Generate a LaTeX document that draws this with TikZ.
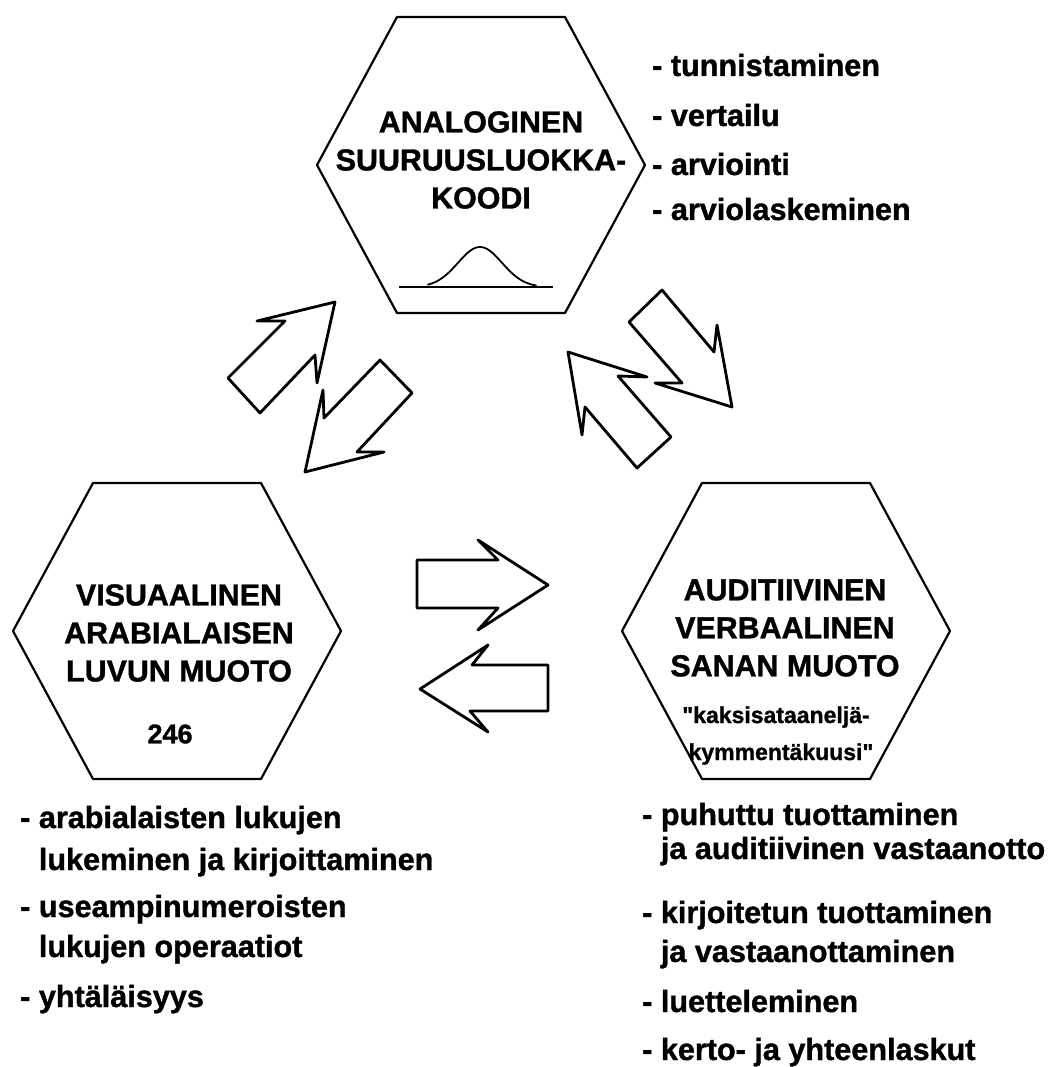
\documentclass[tikz,border=0pt]{standalone}
\usepackage{fontspec}
\setmainfont{Liberation Sans}[BoldFont={Liberation Sans Bold}, BoldFeatures={FakeBold=1.2}]
\newfontfamily\plainquotefont{Liberation Sans Bold}[FakeBold=1.2]
\begin{document}
\begin{tikzpicture}[x=1pt,y=-1pt,
  hexline/.style={line width=2.2pt, line join=round},
  blockarrow/.style={line width=2.8pt, line join=round},
  hextitle/.style={font=\fontsize{30.4}{38}\selectfont\bfseries, align=center, inner sep=0pt},
  listline/.style={font=\fontsize{30.6}{36}\selectfont\bfseries, anchor=base west, inner sep=0pt},
  quoteline/.style={font=\fontsize{23}{28}\selectfont\bfseries, anchor=base, inner sep=0pt},
  numtext/.style={font=\fontsize{27}{32}\selectfont\bfseries, inner sep=0pt}]

\useasboundingbox (0,0) rectangle (1064,1067);

% hexagon centres
\coordinate (hexA) at (481,165);
\coordinate (hexV) at (177,631);
\coordinate (hexU) at (786,631);

\foreach \c in {hexA,hexV,hexU}
  \draw[hexline, shift={(\c)}] (-84,-148) -- (84,-148) -- (164,0) -- (84,148) -- (-84,148) -- (-164,0) -- cycle;

% titles
\node[hextitle] (anal) at (481,160) {ANALOGINEN\\SUURUUSLUOKKA-\\KOODI};
\node[hextitle] (visu) at (179,633) {VISUAALINEN\\ARABIALAISEN\\LUVUN MUOTO};
\node[hextitle] (audi) at (785,628) {AUDITIIVINEN\\VERBAALINEN\\SANAN MUOTO};

% bell curve
\coordinate (bellL) at (399,287);
\coordinate (bellR) at (553,287);
\draw[line width=1.8pt] (bellL) -- (bellR);
\draw[line width=1.8pt, line cap=round] plot[domain=428:536, samples=80, smooth] (\x, {287 - 40*exp(-((\x-480)/31)^2)});

% 246
\node[numtext] (num) at (170,734) {246};

% quote
\node[quoteline] (q1) at (776,723) {{\plainquotefont "}kaksisataaneljä-};
\node[quoteline] (q2) at (781,760) {kymmentäkuusi{\plainquotefont "}};

% block arrows, left pair
\draw[blockarrow] (228,378) -- (285,321) -- (257,321) -- (335,302) -- (317,383) -- (315,355) -- (260,413) -- cycle;
\draw[blockarrow] (380,360) -- (412,393) -- (357,452) -- (384,452) -- (305,472) -- (323,390) -- (324,418) -- cycle;

% block arrows, right pair
\draw[blockarrow] (662,290) -- (629,322) -- (682,383) -- (655,383) -- (732,407) -- (717,325) -- (714,352) -- cycle;
\draw[blockarrow] (568,352) -- (647,377) -- (618,376) -- (671,437) -- (637,468) -- (585,407) -- (582,435) -- cycle;

% block arrows, middle pair
\draw[blockarrow] (417,560) -- (498,560) -- (478,540) -- (548,585) -- (478,630) -- (498,608) -- (417,608) -- cycle;
\draw[blockarrow] (420,689) -- (488,645) -- (472,665) -- (548,665) -- (548,711) -- (470,711) -- (488,732) -- cycle;

% lists: top right
\node[listline] (a1) at (652,76)  {- tunnistaminen};
\node[listline] (a2) at (652,126) {- vertailu};
\node[listline] (a3) at (652,175) {- arviointi};
\node[listline] (a4) at (652,220) {- arviolaskeminen};

% lists: bottom left
\node[listline] (v1) at (20,828)  {- arabialaisten lukujen};
\node[listline] (v2) at (20,870)  {\hphantom{- }lukeminen ja kirjoittaminen};
\node[listline] (v3) at (20,917)  {- useampinumeroisten};
\node[listline] (v4) at (20,957)  {\hphantom{- }lukujen operaatiot};
\node[listline] (v5) at (20,1007) {- yhtäläisyys};

% lists: bottom right
\node[listline] (u1) at (642,825)  {- puhuttu tuottaminen};
\node[listline] (u2) at (642,859)  {\hphantom{- }ja auditiivinen vastaanotto};
\node[listline] (u3) at (642,923)  {- kirjoitetun tuottaminen};
\node[listline] (u4) at (642,962)  {\hphantom{- }ja vastaanottaminen};
\node[listline] (u5) at (642,1012) {- luetteleminen};
\node[listline] (u6) at (642,1060) {- kerto- ja yhteenlaskut};
\end{tikzpicture}
\end{document}
